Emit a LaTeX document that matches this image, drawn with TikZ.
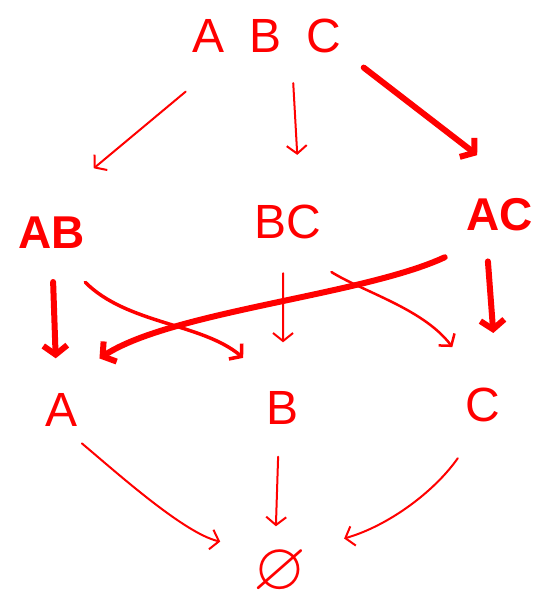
\documentclass[tikz,border=0pt]{standalone}
\usepackage{amssymb}
\usepackage{fontspec}
\setmainfont{Liberation Sans}
\usetikzlibrary{arrows.meta}
\definecolor{ink}{RGB}{255,0,0}
\newcommand\widespaces{\spaceskip 25pt\relax}
\tikzset{
  lbl/.style={text=ink, inner sep=0pt, font=\fontsize{48}{50}\selectfont},
  boldlbl/.style={text=ink, inner sep=0pt, font=\fontsize{46}{50}\selectfont\bfseries},
  toplbl/.style={lbl, font=\fontsize{48}{50}\selectfont\widespaces},
  thinline/.style={draw=ink, line width=2pt, line cap=round, line join=round, -{Straight Barb[length=8pt, width=20pt]}},
  midline/.style={thinline, line width=3.5pt},
  thickline/.style={draw=ink, line width=6pt, line cap=round, line join=round, -{Straight Barb[length=9pt, width=24pt]}}
}

\begin{document}
\begin{tikzpicture}[x=1pt, y=1pt]
  \useasboundingbox (0,0) rectangle (534,-605);
  % lattice levels
  \node[toplbl] (ABC) at (267,-36) {A B C};
  \node[boldlbl] (AB) at (52,-233) {AB};
  \node[lbl] (BC) at (288,-222) {BC};
  \node[boldlbl] (AC) at (500,-215) {AC};
  \node[lbl] (A) at (62,-410) {A};
  \node[lbl] (B) at (283,-408) {B};
  \node[lbl] (C) at (483,-405) {C};
  \node[lbl, font=\fontsize{68}{70}\selectfont] (empty) at (280,-572) {$\varnothing$};
  % top to middle
  \draw[thinline, shorten <=60pt, shorten >=76pt] (ABC.206.6) -- (AB.136);
  \draw[thinline, shorten <=30pt, shorten >=50pt] (ABC.-35) -- (BC.55);
  \draw[thickline, shorten <=28pt, shorten >=71pt] (ABC.-11) -- (AC.north east);
  % middle to bottom
  \draw[thickline, shorten <=33pt, shorten >=35pt] (AB.south) -- (A.107);
  \draw[midline, shorten <=47pt, shorten >=52pt] (AB.south) to[out=-45, in=140] (B.north);
  \draw[thickline, shorten <=61pt, shorten >=64pt] (AC.south) to[out=205, in=33, looseness=0.8] (A.north west);
  \draw[thinline, shorten <=34pt, shorten >=49pt] (BC.254) -- (B.north);
  \draw[thinline, line width=2.5pt, shorten <=62pt, shorten >=51pt] (BC.242) to[out=-32, in=127] (C.north);
  \draw[thickline, shorten <=30pt, shorten >=55pt] (AC.229) -- (C.50);
  % to the empty set
  \draw[thinline, shorten <=26pt, shorten >=34pt] (A.south) to[out=-40, in=167, looseness=0.8] (empty.north west);
  \draw[thinline, shorten <=32pt, shorten >=23pt] (B.257) -- (empty.102);
  \draw[thinline, shorten <=44pt, shorten >=39pt] (C.south) to[out=235, in=16] (empty.north east);
\end{tikzpicture}
\end{document}
